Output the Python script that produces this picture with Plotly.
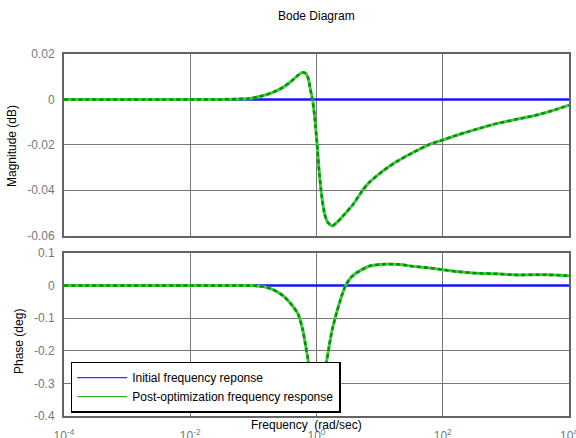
import plotly.graph_objects as go

# ---------------- data ----------------
freq_initial = [1e-4, 1e4]
mag_initial_db = [0.0, 0.0]
phase_initial_deg = [0.0, 0.0]

mag_freq = [0.0001, 0.01, 0.0316, 0.087, 0.141, 0.204, 0.295, 0.398, 0.513, 0.603,
            0.676, 0.741, 0.804, 0.863, 0.940, 1.023, 1.102, 1.200, 1.349, 1.514,
            1.778, 2.089, 2.630, 3.802, 5.495, 6.918, 11.48, 18.62, 33.88, 63.10,
            97.72, 166.0, 346.7, 707.9, 1479, 3090, 6310, 10000]
mag_post_db = [0.0, 0.0, 0.0, 0.0004, 0.0016, 0.0031, 0.0053, 0.0080, 0.0107, 0.0118,
               0.0114, 0.0092, 0.0041, 0.0, -0.0083, -0.0200, -0.0317, -0.0419, -0.0507, -0.0543,
               -0.0558, -0.0543, -0.0514, -0.0463, -0.0397, -0.0365, -0.0314, -0.0274, -0.0234, -0.0197,
               -0.0180, -0.0158, -0.0131, -0.0107, -0.0088, -0.0069, -0.0044, -0.0026]

phase_freq = [0.0001, 0.01, 0.1, 0.141, 0.204, 0.295, 0.398, 0.513, 0.603, 0.676,
              0.741, 0.85, 1.0, 1.2, 1.445, 1.585, 1.778, 2.089, 2.512, 2.884,
              3.548, 4.898, 6.918, 10.0, 20.9, 33.88, 63.1, 97.7, 166.0, 346.7,
              707.9, 1318, 4365, 8511, 10000]
phase_post_deg = [0.0, 0.0, 0.0, -0.003, -0.012, -0.031, -0.057, -0.088, -0.134, -0.186,
                  -0.232, -0.30, -0.33, -0.30, -0.232, -0.186, -0.134, -0.082, -0.031, 0.0,
                  0.026, 0.046, 0.060, 0.065, 0.065, 0.059, 0.054, 0.049, 0.043, 0.038,
                  0.036, 0.033, 0.033, 0.031, 0.030]

x_tickvals = [1e-4, 1e-2, 1e0, 1e2, 9999.5]
x_ticktext = ["10<sup>-4</sup>", "10<sup>-2</sup>", "10<sup>0</sup>", "10<sup>2</sup>", "10<sup>4</sup>"]
mag_ticks = [0.02, 0, -0.02, -0.04, -0.06]
mag_ticktext = ["0.02", "0", "-0.02", "-0.04", "-0.06"]
phase_ticks = [0.1, 0, -0.1, -0.2, -0.3, -0.4]
phase_ticktext = ["0.1", "0", "-0.1", "-0.2", "-0.3", "-0.4"]

name_initial = "Initial frequency reponse"
name_post = "Post-optimization frequency response"

# ---------------- styling ----------------
W, H = 576, 438
L, R, T, B = 64, 7, 54, 22
BLUE = "rgb(20,20,255)"
GREEN_LIGHT = "rgb(70,200,70)"
GREEN_DARK = "rgb(0,150,0)"
GRID = "rgb(120,120,120)"
FRAME = "rgb(100,100,100)"
TICKC = "rgb(120,120,120)"
FONT = "Liberation Sans, Arial, sans-serif"

fig = go.Figure()

def add_series(x, y, xa, ya):
    fig.add_trace(go.Scatter(x=x, y=y, mode="lines", line=dict(color=GREEN_LIGHT, width=3, shape="spline", smoothing=0.5),
                             showlegend=False, xaxis=xa, yaxis=ya, hoverinfo="skip"))
    fig.add_trace(go.Scatter(x=x, y=y, mode="lines", line=dict(color=GREEN_DARK, width=2.5, dash="4px,3px", shape="spline", smoothing=0.5),
                             showlegend=False, xaxis=xa, yaxis=ya, hoverinfo="skip"))

# top: magnitude
fig.add_trace(go.Scatter(x=freq_initial, y=mag_initial_db, mode="lines", line=dict(color=BLUE, width=2.5),
                         showlegend=False, xaxis="x", yaxis="y"))
add_series(mag_freq, mag_post_db, "x", "y")
# bottom: phase
fig.add_trace(go.Scatter(x=freq_initial, y=phase_initial_deg, mode="lines", line=dict(color=BLUE, width=2.5),
                         showlegend=False, xaxis="x2", yaxis="y2"))
add_series(phase_freq, phase_post_deg, "x2", "y2")

# legend-only entries (thin lines like the reference)
fig.add_trace(go.Scatter(x=[None], y=[None], mode="lines", line=dict(color="rgb(0,0,255)", width=1),
                         name=name_initial, xaxis="x2", yaxis="y2"))
fig.add_trace(go.Scatter(x=[None], y=[None], mode="lines", line=dict(color="rgb(0,160,0)", width=1),
                         name=name_post, xaxis="x2", yaxis="y2"))

top_lo = (H - B - 235.5) / (H - T - B)
bot_hi = (H - B - 253) / (H - T - B)

axis_common = dict(showline=True, linecolor=FRAME, linewidth=2, mirror=True,
                   showgrid=True, gridcolor=GRID, gridwidth=1.3, zeroline=False, automargin=False,
                   ticks="", tickfont=dict(family=FONT, size=12, color=TICKC))

fig.update_layout(
    width=W, height=H,
    margin=dict(l=L, r=R, t=T, b=B, pad=0, autoexpand=False),
    paper_bgcolor="white", plot_bgcolor="white",
    font=dict(family=FONT, size=12, color="black"),
    xaxis=dict(type="log", range=[-4, 4], domain=[0, 1], anchor="y", tickvals=x_tickvals,
               showticklabels=False, **axis_common),
    yaxis=dict(range=[-0.06, 0.02], domain=[top_lo, 1], anchor="x", tickvals=mag_ticks,
               ticktext=mag_ticktext, ticklabelstandoff=5, **axis_common),
    xaxis2=dict(type="log", range=[-4, 4], domain=[0, 1], anchor="y2", tickvals=x_tickvals,
                ticktext=x_ticktext, ticklabelstandoff=8, ticklabeloverflow="allow", **axis_common),
    yaxis2=dict(range=[-0.4, 0.1], domain=[0, bot_hi], anchor="x2", tickvals=phase_ticks,
                ticktext=phase_ticktext, ticklabelstandoff=5, **axis_common),
    showlegend=True,
    legend=dict(x=(70.7 - L) / (W - L - R), y=(H - B - 361.7) / (H - T - B), xanchor="left", yanchor="top",
                bgcolor="white", bordercolor="black", borderwidth=1.5,
                font=dict(family=FONT, size=12, color="black"), itemwidth=50,
                tracegroupgap=0),
    annotations=[
        dict(text="Bode Diagram", xref="paper", yref="paper", x=(316 - L) / (W - L - R),
             y=(H - B - 16) / (H - T - B), xanchor="center", yanchor="middle", showarrow=False,
             font=dict(family=FONT, size=12, color="black")),
        dict(text="Magnitude (dB)", xref="paper", yref="paper", x=(12 - L) / (W - L - R),
             y=(H - B - 146) / (H - T - B), xanchor="center", yanchor="middle", showarrow=False,
             textangle=-90, font=dict(family=FONT, size=12, color="black")),
        dict(text="Phase (deg)", xref="paper", yref="paper", x=(19 - L) / (W - L - R),
             y=(H - B - 342) / (H - T - B), xanchor="center", yanchor="middle", showarrow=False,
             textangle=-90, font=dict(family=FONT, size=12, color="black")),
        dict(text="Frequency \u00a0(rad/sec)", xref="paper", yref="paper", x=(306 - L) / (W - L - R),
             y=(H - B - 425) / (H - T - B), xanchor="center", yanchor="middle", showarrow=False,
             font=dict(family=FONT, size=12, color="black")),
    ],
)

fig.write_html("out.html")
